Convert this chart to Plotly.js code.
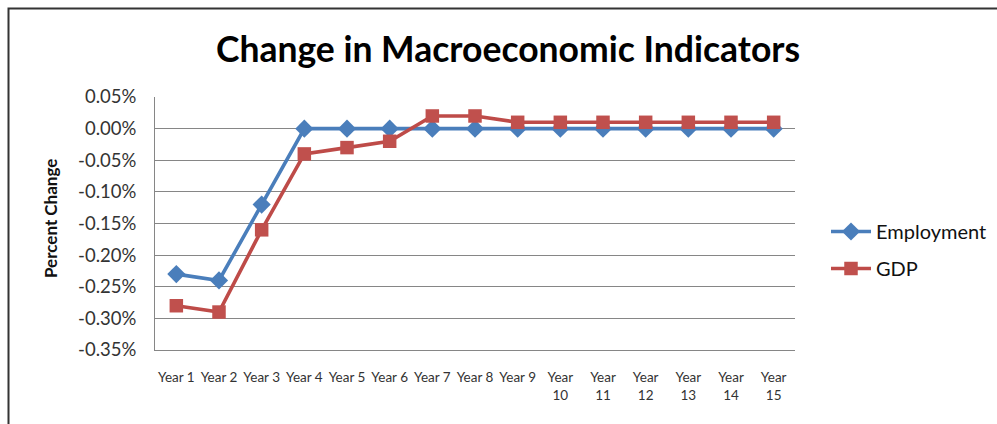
<!DOCTYPE html>
<html>
<head>
<meta charset="utf-8">
<script src="https://cdn.plot.ly/plotly-3.0.1.min.js"></script>
<style>
html,body{margin:0;padding:0;background:#fff;}
#chart{width:997px;height:424px;}
</style>
</head>
<body>
<div id="chart"></div>
<script>
// Data (percent change, in %)
const categories = ["Year 1","Year 2","Year 3","Year 4","Year 5","Year 6","Year 7","Year 8","Year 9","Year 10","Year 11","Year 12","Year 13","Year 14","Year 15"];
const tickLabels = ["Year 1","Year 2","Year 3","Year 4","Year 5","Year 6","Year 7","Year 8","Year 9","Year<br>10","Year<br>11","Year<br>12","Year<br>13","Year<br>14","Year<br>15"];
const employment = [-0.23,-0.24,-0.12,0,0,0,0,0,0,0,0,0,0,0,0];
const gdp = [-0.28,-0.29,-0.16,-0.04,-0.03,-0.02,0.02,0.02,0.01,0.01,0.01,0.01,0.01,0.01,0.01];
const yTicks = [0.05,0,-0.05,-0.10,-0.15,-0.20,-0.25,-0.30,-0.35];
const yTickLabels = ["0.05%","0.00%","-0.05%","-0.10%","-0.15%","-0.20%","-0.25%","-0.30%","-0.35%"];

const W = 997, H = 424;
const L = 155, R = 795, T = 97, B = 350;
const px2x = p => (p - L) / (R - L);
function pyPaper(p){ return (B - p) / (B - T); }

const traces = [
  {x: categories, y: employment, name: "Employment", type: "scatter", mode: "lines+markers",
   line: {color: "#4A7EBB", width: 3.6}, marker: {symbol: "diamond", size: 14, color: "#4A7EBB"},
   legendgroup: "a"},
  {x: categories, y: gdp, name: "GDP", type: "scatter", mode: "lines+markers",
   line: {color: "#BE4B48", width: 3.6}, marker: {symbol: "square", size: 13.5, color: "#C0504D"},
   legendgroup: "b"}
];

const layout = {
  width: W, height: H,
  margin: {l: L, r: W - R, t: T, b: H - B, pad: 0, autoexpand: false},
  paper_bgcolor: "#fff", plot_bgcolor: "#fff",
  font: {family: "Lato, 'Open Sans', sans-serif", color: "#111"},
  title: {text: "<b>Change in Macroeconomic Indicators</b>", font: {size: 35.5, family: "Lato, sans-serif", color: "#000"},
          x: 508 / W, xanchor: "center", xref: "container", y: 1 - 50 / H, yanchor: "middle", yref: "container"},
  xaxis: {type: "category", range: [-0.5, 14.5], tickmode: "array", tickvals: categories, ticktext: tickLabels,
          showgrid: false, showline: true, linecolor: "#868686", linewidth: 1,
          ticks: "", tickfont: {size: 13.5, color: "#333"}, ticklabelstandoff: 15, fixedrange: true, automargin: false},
  yaxis: {range: [-0.35, 0.05], tickmode: "array", tickvals: yTicks, ticktext: yTickLabels,
          showgrid: true, gridcolor: "#868686", gridwidth: 1, zeroline: false,
          showline: true, linecolor: "#868686", linewidth: 1, ticks: "",
          tickfont: {size: 18.5, color: "#333"}, ticklabelstandoff: 14, fixedrange: true, automargin: false},
  showlegend: true,
  legend: {x: px2x(826), y: pyPaper(212), xanchor: "left", yanchor: "top",
           font: {size: 20, color: "#111"}, traceorder: "grouped", tracegroupgap: 8,
           bgcolor: "rgba(0,0,0,0)", itemwidth: 40},
  annotations: [
    {text: "<b>Percent Change</b>", textangle: -90, xref: "paper", yref: "paper",
     x: px2x(50), y: pyPaper(219), xanchor: "center", yanchor: "middle", showarrow: false,
     font: {size: 17, color: "#111"}}
  ],
  shapes: [
    {type: "path", xref: "paper", yref: "paper",
     path: "M " + px2x(8.5) + " " + pyPaper(430) + " L " + px2x(8.5) + " " + pyPaper(8.5) + " L " + px2x(1000) + " " + pyPaper(8.5),
     line: {color: "#333", width: 2}}
  ]
};

Plotly.newPlot("chart", traces, layout, {displayModeBar: false, staticPlot: true});
</script>
</body>
</html>
